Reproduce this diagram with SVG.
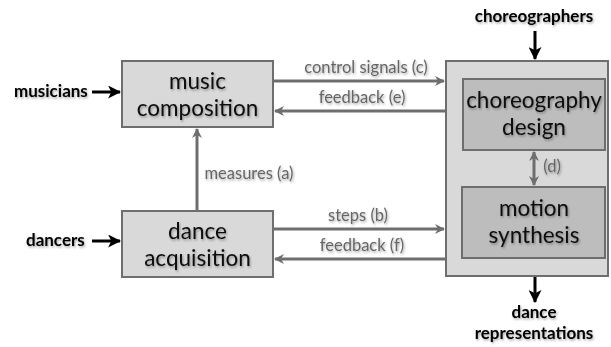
<svg xmlns="http://www.w3.org/2000/svg" width="611" height="347" viewBox="0 0 611 347">
  <defs>
    <filter id="soft" x="-20%" y="-40%" width="140%" height="180%">
      <feDropShadow dx="1" dy="1.5" stdDeviation="1.2" flood-color="#000" flood-opacity="0.35"/>
    </filter>
    <marker id="grayHead" viewBox="0 0 10 10" refX="9" refY="5" markerWidth="10" markerHeight="10" markerUnits="userSpaceOnUse" orient="auto-start-reverse">
      <path d="M0,0 L10,5 L0,10 L3,5 Z" fill="#6e6e6e"/>
    </marker>
    <marker id="blackHead" viewBox="0 0 12 12" refX="11" refY="6" markerWidth="13" markerHeight="13" markerUnits="userSpaceOnUse" orient="auto">
      <path d="M0,0 L12,6 L0,12 L3,6 Z" fill="#000"/>
    </marker>
  </defs>
  <style>
    .box { fill: #d9d9d9; stroke: #6e6e6e; stroke-width: 2; }
    .inner { fill: #bdbdbd; stroke: #6e6e6e; stroke-width: 2; }
    .big { font-family: Lato, "Open Sans", sans-serif; font-size: 22.5px; fill: #111; text-anchor: middle; filter: url(#soft); }
    .ext { font-family: Lato, "Open Sans", sans-serif; font-size: 17px; font-weight: bold; fill: #000; filter: url(#soft); }
    .lbl { font-family: Lato, "Open Sans", sans-serif; font-size: 16.5px; fill: #666; text-anchor: middle; filter: url(#soft); }
    .con { stroke: #6e6e6e; stroke-width: 3; fill: none; }
    .inp { stroke: #000; stroke-width: 3; fill: none; }
  </style>

  <!-- external actors -->
  <g id="musicians"><text class="ext" x="14" y="97">musicians</text></g>
  <g id="dancers"><text class="ext" x="26" y="246">dancers</text></g>
  <g id="choreographers"><text class="ext" x="534" y="22" text-anchor="middle">choreographers</text></g>
  <g id="dance-representations">
    <text class="ext" x="534" y="318" text-anchor="middle">dance</text>
    <text class="ext" x="534" y="339" text-anchor="middle">representations</text>
  </g>

  <!-- processing nodes -->
  <g id="music-composition">
    <rect class="box" x="122" y="61" width="151" height="66"/>
    <text class="big" x="197.5" y="89">music</text>
    <text class="big" x="197.5" y="116">composition</text>
  </g>
  <g id="dance-acquisition">
    <rect class="box" x="122" y="211" width="151" height="66"/>
    <text class="big" x="197.5" y="239">dance</text>
    <text class="big" x="197.5" y="266">acquisition</text>
  </g>
  <g id="choreography-system">
    <rect class="box" x="446" y="61" width="162" height="215"/>
  </g>
  <g id="choreography-design">
    <rect class="inner" x="463" y="79" width="142" height="71"/>
    <text class="big" x="534" y="108">choreography</text>
    <text class="big" x="534" y="135">design</text>
  </g>
  <g id="motion-synthesis">
    <rect class="inner" x="462" y="187" width="143" height="71"/>
    <text class="big" x="534" y="216">motion</text>
    <text class="big" x="534" y="243">synthesis</text>
  </g>

  <!-- connectors -->
  <g id="connectors">
    <line class="con" x1="273" y1="81" x2="444" y2="81" marker-end="url(#grayHead)"/>
    <line class="con" x1="446" y1="111" x2="275" y2="111" marker-end="url(#grayHead)"/>
    <line class="con" x1="273" y1="229" x2="444" y2="229" marker-end="url(#grayHead)"/>
    <line class="con" x1="446" y1="259" x2="275" y2="259" marker-end="url(#grayHead)"/>
    <line class="con" x1="197" y1="211" x2="197" y2="129" marker-end="url(#grayHead)"/>
    <line class="con" x1="534" y1="152" x2="534" y2="185" marker-start="url(#grayHead)" marker-end="url(#grayHead)"/>
    <line class="inp" x1="92" y1="92" x2="120" y2="92" marker-end="url(#blackHead)"/>
    <line class="inp" x1="92" y1="241" x2="120" y2="241" marker-end="url(#blackHead)"/>
    <line class="inp" x1="535" y1="31" x2="535" y2="59" marker-end="url(#blackHead)"/>
    <line class="inp" x1="535" y1="277" x2="535" y2="302" marker-end="url(#blackHead)"/>

    <text class="lbl" x="366" y="73">control signals (c)</text>
    <text class="lbl" x="362" y="103">feedback (e)</text>
    <text class="lbl" x="358" y="221">steps (b)</text>
    <text class="lbl" x="362" y="251">feedback (f)</text>
    <text class="lbl" x="249" y="179">measures (a)</text>
    <text class="lbl" x="552" y="172">(d)</text>
  </g>
</svg>
